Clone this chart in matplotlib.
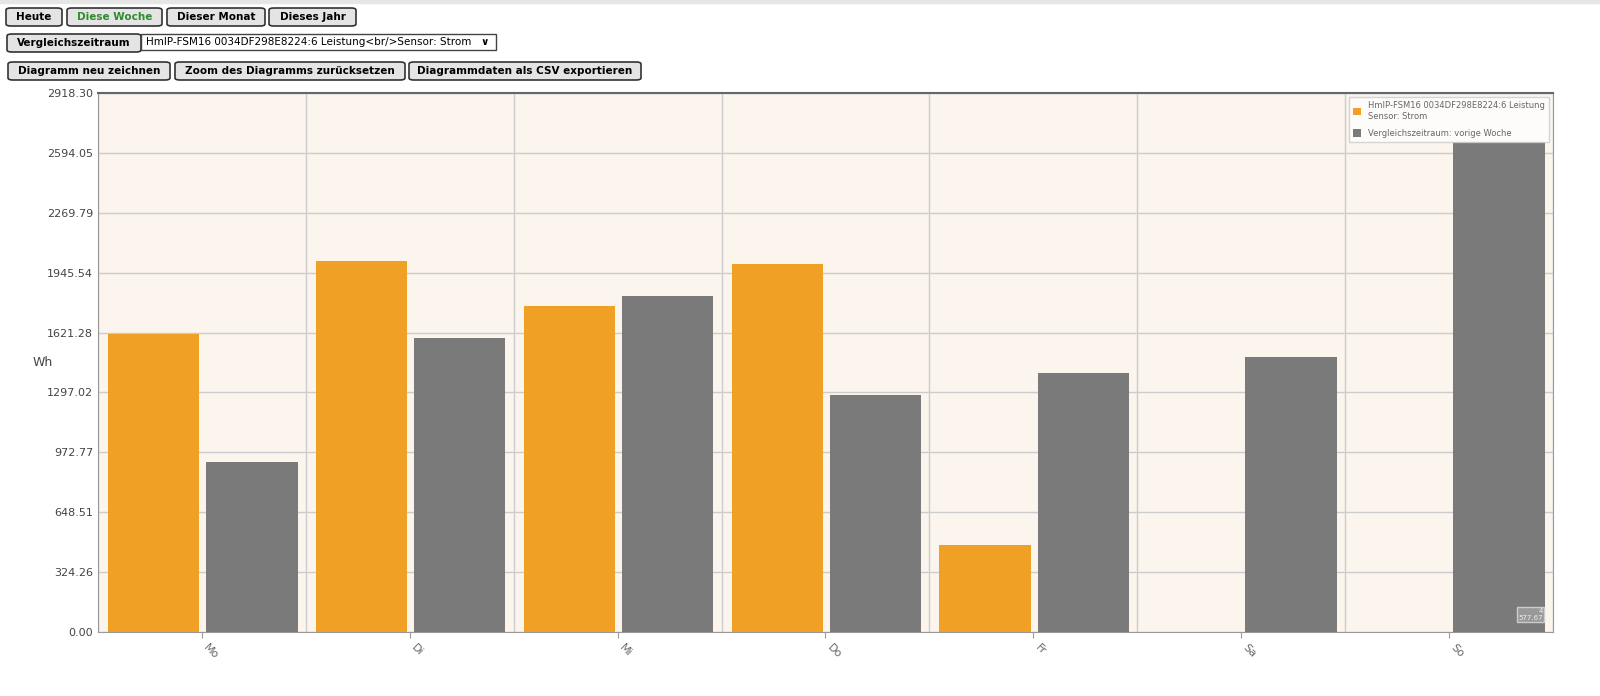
import matplotlib
matplotlib.use("Agg")
import matplotlib.pyplot as plt
from matplotlib.patches import FancyBboxPatch, Rectangle
import numpy as np

days = ["Mo", "Di", "Mi", "Do", "Fr", "Sa", "So"]
current = [1613, 2009, 1765, 1992, 471, 0, 0]
previous = [920, 1592, 1819, 1283, 1402, 1489, 2653]
ymax = 2918.30
yticks = [0.00, 324.26, 648.51, 972.77, 1297.02, 1621.28, 1945.54, 2269.79, 2594.05, 2918.30]

W, H = 1600, 696
fig = plt.figure(figsize=(16, 6.96), dpi=100)
fig.patch.set_facecolor("white")
fig.add_artist(Rectangle((0, 1 - 3 / H), 1, 3 / H, transform=fig.transFigure, color="#e6e6e6"))

def button(x0, y0, x1, y1, text, color="black"):
    fig.add_artist(FancyBboxPatch((x0 / W, 1 - y1 / H), (x1 - x0) / W, (y1 - y0) / H,
                                  boxstyle="round,pad=0,rounding_size=0.003",
                                  transform=fig.transFigure, facecolor="#e4e4e4",
                                  edgecolor="#333333", linewidth=1.2))
    fig.text((x0 + x1) / 2 / W, 1 - (y0 + y1) / 2 / H, text, ha="center", va="center",
             fontsize=7.5, fontweight="bold", color=color, family="DejaVu Sans")

button(6, 8, 62, 26, "Heute")
button(67, 8, 162, 26, "Diese Woche", "#2e8b2e")
button(167, 8, 265, 26, "Dieser Monat")
button(269, 8, 356, 26, "Dieses Jahr")
button(7, 34, 141, 52, "Vergleichszeitraum")
fig.add_artist(Rectangle((141 / W, 1 - 50 / H), (496 - 141) / W, 16 / H, transform=fig.transFigure,
                         facecolor="white", edgecolor="#444444", linewidth=1))
fig.text(146 / W, 1 - 42 / H, "HmIP-FSM16 0034DF298E8224:6 Leistung<br/>Sensor: Strom",
         ha="left", va="center", fontsize=7.5, family="DejaVu Sans")
fig.text(485 / W, 1 - 42 / H, "\u2228", ha="center", va="center", fontsize=7.5,
         fontweight="bold", family="DejaVu Sans")
button(8, 62, 170, 80, "Diagramm neu zeichnen")
button(175, 62, 405, 80, "Zoom des Diagramms zurücksetzen")
button(409, 62, 641, 80, "Diagrammdaten als CSV exportieren")

ax = fig.add_axes([98 / W, 64 / H, (1553 - 98) / W, (632 - 93) / H])
ax.set_facecolor("#fcf5ee")
x = np.arange(len(days))
ax.bar(x - 0.232, current, width=0.44, color="#f0a024", zorder=3,
       label="HmIP-FSM16 0034DF298E8224:6 Leistung\nSensor: Strom")
ax.bar(x + 0.24, previous, width=0.44, color="#7a7a7a", zorder=3,
       label="Vergleichszeitraum: vorige Woche")
ax.set_xlim(-0.5, len(days) - 0.5)
ax.set_ylim(0, ymax)
ax.set_yticks(yticks)
ax.set_yticklabels([f"{v:.2f}" for v in yticks], fontsize=8, color="#444444")
ax.set_xticks(x)
ax.set_xticklabels(days, rotation=-45, ha="left", fontsize=8, color="#666666")
ax.set_xticks(np.arange(-0.5, len(days), 1), minor=True)
ax.grid(True, which="minor", axis="x", color="#cccccc", lw=1, zorder=0)
ax.grid(True, which="major", axis="y", color="#cccccc", lw=1, zorder=0)
ax.tick_params(axis="both", which="both", length=0)
ax.tick_params(axis="x", which="major", length=4, color="#999999")
for s in ax.spines.values():
    s.set_color("#999999")
ax.spines["top"].set_color("#666666")
ax.spines["top"].set_linewidth(1.5)
ax.text(-0.045, 0.5, "Wh", transform=ax.transAxes, fontsize=9, color="#444444", va="center")
leg = ax.legend(loc="upper right", fontsize=6, frameon=True, fancybox=False,
                borderpad=0.5, handlelength=1, handleheight=1, labelspacing=1)
leg.get_frame().set_edgecolor("#cccccc")
for t in leg.get_texts():
    t.set_color("#666666")
ax.text(6.45, 60, "4\n577.67", fontsize=5, color="#eeeeee", ha="right", va="bottom", zorder=5,
        bbox=dict(facecolor="#999999", edgecolor="#cccccc", pad=1))

fig.savefig("out.png", dpi=100)
